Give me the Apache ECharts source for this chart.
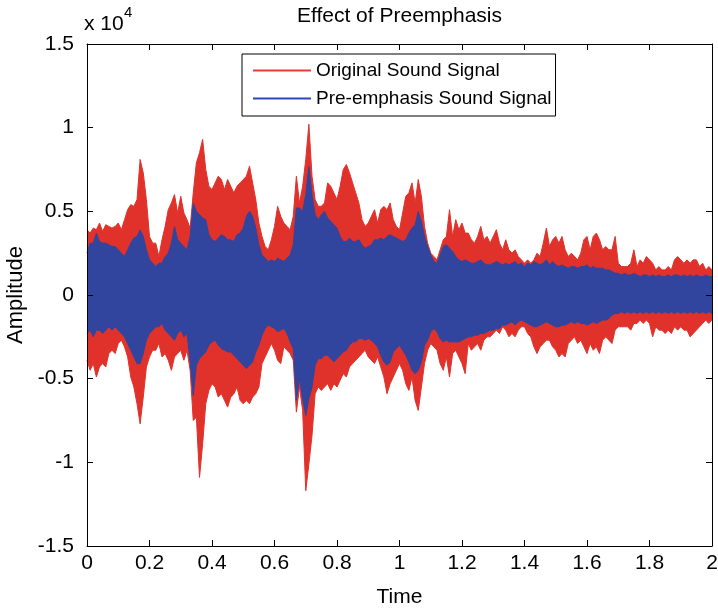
<!DOCTYPE html>
<html>
<head>
<meta charset="utf-8">
<script src="https://cdn.jsdelivr.net/npm/echarts@6/dist/echarts.min.js"></script>
<style>html,body{margin:0;padding:0;background:#fff}#c{width:718px;height:611px}</style>
</head>
<body>
<div id="c"></div>
<script>
// Labels
const chartTitle = 'Effect of Preemphasis';
const seriesNames = ['Original Sound Signal', 'Pre-emphasis Sound Signal'];
const xName = 'Time';
const yName = 'Amplitude';
const yScaleLabel = ['x 10', '4'];

// Sampling grid of the envelope readings (seconds)
const sampleStep = 0.01;

// Amplitude envelopes (in units of 10^4), read per 0.01 s from the picture
const redUpper = [
0.39,0.37,0.40,0.39,0.43,0.38,0.42,0.41,0.40,0.41,
0.43,0.39,0.45,0.51,0.54,0.53,0.57,0.81,0.73,0.57,
0.35,0.31,0.31,0.23,0.33,0.41,0.51,0.55,0.60,0.49,
0.59,0.49,0.45,0.40,0.61,0.79,0.85,0.93,0.75,0.65,
0.63,0.67,0.71,0.69,0.63,0.69,0.65,0.61,0.65,0.67,
0.69,0.71,0.77,0.67,0.57,0.43,0.35,0.29,0.27,0.33,
0.41,0.53,0.47,0.43,0.41,0.39,0.47,0.71,0.55,0.65,
0.81,1.02,0.71,0.57,0.53,0.53,0.55,0.67,0.65,0.61,
0.57,0.65,0.75,0.78,0.73,0.67,0.61,0.55,0.45,0.41,
0.43,0.47,0.51,0.43,0.51,0.53,0.51,0.55,0.45,0.41,
0.39,0.49,0.59,0.61,0.67,0.55,0.69,0.59,0.41,0.31,
0.25,0.23,0.21,0.27,0.33,0.35,0.51,0.35,0.45,0.39,
0.43,0.37,0.37,0.33,0.31,0.35,0.41,0.33,0.35,0.31,
0.35,0.39,0.31,0.27,0.33,0.27,0.25,0.27,0.23,0.21,
0.19,0.21,0.19,0.21,0.25,0.23,0.31,0.40,0.29,0.33,
0.35,0.31,0.35,0.27,0.23,0.25,0.23,0.21,0.25,0.33,
0.35,0.27,0.35,0.37,0.33,0.27,0.29,0.27,0.27,0.35,
0.19,0.17,0.17,0.17,0.19,0.27,0.17,0.21,0.19,0.23,
0.21,0.19,0.15,0.17,0.15,0.15,0.17,0.15,0.21,0.23,
0.21,0.19,0.21,0.19,0.21,0.21,0.17,0.19,0.15,0.17,
0.15];

const redLower = [
-0.39,-0.45,-0.41,-0.49,-0.43,-0.41,-0.43,-0.35,-0.33,-0.35,
-0.29,-0.27,-0.31,-0.37,-0.49,-0.55,-0.65,-0.77,-0.61,-0.43,
-0.37,-0.33,-0.33,-0.29,-0.37,-0.35,-0.39,-0.45,-0.37,-0.35,
-0.33,-0.39,-0.33,-0.45,-0.75,-0.73,-1.09,-0.89,-0.65,-0.57,
-0.53,-0.55,-0.61,-0.59,-0.63,-0.67,-0.61,-0.59,-0.55,-0.63,
-0.65,-0.63,-0.65,-0.61,-0.59,-0.55,-0.41,-0.37,-0.33,-0.29,
-0.33,-0.39,-0.41,-0.31,-0.33,-0.35,-0.39,-0.70,-0.55,-0.69,
-1.17,-1.01,-0.84,-0.59,-0.55,-0.57,-0.55,-0.53,-0.57,-0.53,
-0.55,-0.51,-0.47,-0.49,-0.43,-0.41,-0.39,-0.37,-0.35,-0.33,
-0.37,-0.39,-0.41,-0.37,-0.43,-0.49,-0.59,-0.53,-0.49,-0.45,
-0.41,-0.45,-0.53,-0.57,-0.49,-0.63,-0.69,-0.55,-0.41,-0.33,
-0.29,-0.31,-0.33,-0.41,-0.45,-0.37,-0.49,-0.35,-0.33,-0.37,
-0.41,-0.47,-0.29,-0.33,-0.31,-0.29,-0.33,-0.27,-0.25,-0.25,
-0.23,-0.21,-0.23,-0.19,-0.21,-0.25,-0.23,-0.25,-0.21,-0.19,
-0.19,-0.23,-0.25,-0.31,-0.35,-0.31,-0.29,-0.27,-0.27,-0.31,
-0.33,-0.37,-0.35,-0.37,-0.29,-0.27,-0.25,-0.29,-0.27,-0.31,
-0.35,-0.29,-0.33,-0.31,-0.35,-0.27,-0.25,-0.27,-0.29,-0.21,
-0.19,-0.19,-0.19,-0.19,-0.21,-0.17,-0.17,-0.15,-0.17,-0.15,
-0.17,-0.25,-0.19,-0.21,-0.21,-0.23,-0.21,-0.23,-0.19,-0.21,
-0.19,-0.21,-0.21,-0.25,-0.23,-0.21,-0.19,-0.17,-0.15,-0.17,
-0.15];

const blueUpper = [
0.25,0.31,0.31,0.37,0.32,0.31,0.31,0.30,0.29,0.29,
0.27,0.25,0.23,0.27,0.31,0.34,0.35,0.39,0.35,0.27,
0.21,0.19,0.17,0.19,0.19,0.23,0.25,0.31,0.41,0.33,
0.31,0.29,0.27,0.35,0.55,0.50,0.48,0.46,0.45,0.36,
0.33,0.32,0.34,0.36,0.35,0.33,0.33,0.32,0.36,0.37,
0.40,0.47,0.50,0.47,0.40,0.30,0.24,0.22,0.20,0.21,
0.20,0.22,0.21,0.20,0.22,0.24,0.30,0.52,0.52,0.50,
0.60,0.77,0.60,0.48,0.45,0.48,0.50,0.46,0.44,0.42,
0.40,0.35,0.32,0.32,0.34,0.32,0.32,0.33,0.30,0.28,
0.29,0.30,0.33,0.33,0.34,0.33,0.35,0.36,0.35,0.34,
0.33,0.32,0.33,0.37,0.40,0.42,0.50,0.44,0.35,0.29,
0.24,0.20,0.19,0.24,0.29,0.30,0.28,0.26,0.23,0.21,
0.20,0.21,0.20,0.19,0.19,0.20,0.21,0.19,0.18,0.18,
0.19,0.20,0.19,0.18,0.19,0.18,0.19,0.20,0.18,0.19,
0.17,0.19,0.18,0.20,0.19,0.18,0.19,0.21,0.18,0.20,
0.18,0.17,0.18,0.17,0.16,0.17,0.17,0.16,0.17,0.17,
0.18,0.16,0.17,0.16,0.16,0.16,0.15,0.15,0.14,0.13,
0.13,0.12,0.13,0.12,0.12,0.13,0.12,0.11,0.12,0.12,
0.11,0.12,0.11,0.12,0.11,0.11,0.12,0.11,0.12,0.12,
0.11,0.12,0.11,0.12,0.11,0.12,0.11,0.11,0.12,0.11,
0.11];

const blueLower = [
-0.23,-0.21,-0.25,-0.21,-0.21,-0.23,-0.21,-0.19,-0.21,-0.19,
-0.21,-0.23,-0.25,-0.29,-0.33,-0.37,-0.41,-0.41,-0.35,-0.27,
-0.23,-0.21,-0.19,-0.19,-0.17,-0.21,-0.23,-0.25,-0.27,-0.23,
-0.21,-0.25,-0.23,-0.40,-0.60,-0.42,-0.38,-0.36,-0.34,-0.30,
-0.28,-0.27,-0.30,-0.32,-0.33,-0.34,-0.34,-0.36,-0.38,-0.40,
-0.42,-0.44,-0.42,-0.40,-0.34,-0.30,-0.24,-0.20,-0.18,-0.19,
-0.20,-0.22,-0.21,-0.20,-0.23,-0.28,-0.32,-0.63,-0.50,-0.62,
-0.72,-0.62,-0.55,-0.42,-0.38,-0.38,-0.36,-0.36,-0.38,-0.40,
-0.38,-0.36,-0.34,-0.33,-0.30,-0.28,-0.28,-0.26,-0.26,-0.27,
-0.26,-0.27,-0.29,-0.31,-0.36,-0.40,-0.42,-0.40,-0.34,-0.32,
-0.30,-0.33,-0.36,-0.40,-0.45,-0.47,-0.45,-0.40,-0.30,-0.27,
-0.22,-0.20,-0.22,-0.26,-0.28,-0.27,-0.28,-0.28,-0.28,-0.28,
-0.27,-0.26,-0.25,-0.25,-0.24,-0.24,-0.23,-0.23,-0.22,-0.21,
-0.21,-0.20,-0.20,-0.18,-0.18,-0.17,-0.16,-0.18,-0.16,-0.15,
-0.16,-0.17,-0.18,-0.19,-0.19,-0.18,-0.17,-0.16,-0.17,-0.18,
-0.19,-0.19,-0.18,-0.18,-0.17,-0.16,-0.17,-0.16,-0.17,-0.17,
-0.18,-0.17,-0.16,-0.17,-0.16,-0.15,-0.15,-0.14,-0.12,-0.11,
-0.11,-0.10,-0.11,-0.10,-0.11,-0.10,-0.11,-0.10,-0.11,-0.10,
-0.11,-0.10,-0.11,-0.10,-0.11,-0.10,-0.11,-0.10,-0.11,-0.10,
-0.11,-0.10,-0.11,-0.10,-0.11,-0.10,-0.11,-0.10,-0.11,-0.10,
-0.11];

// Axis ranges / ticks
const xRange = [0, 2], xStep = 0.2;
const yRange = [-1.5, 1.5], yStep = 0.5;

const time = redUpper.map((_, i) => +(i * sampleStep).toFixed(2));

const FONT = "'Liberation Sans', Arial, Helvetica, sans-serif";
const RED = '#E0322A', BLUE = '#31459E';

function env(vals) { return time.map((t, i) => [t, vals[i]]); }
function band(name, vals, color) {
  return {
    name, type: 'line', data: env(vals), symbol: 'none', showSymbol: false,
    lineStyle: { color, width: 1 }, itemStyle: { color },
    areaStyle: { color, opacity: 1, origin: 'auto' },
    silent: true, animation: false, z: 2
  };
}

const axisCommon = {
  axisLine: { show: true, onZero: false, lineStyle: { color: '#000', width: 1 } },
  axisTick: { show: true, inside: true, length: 6, lineStyle: { color: '#000', width: 1 } },
  splitLine: { show: false },
  z: 5
};

const chart = echarts.init(document.getElementById('c'), null, { renderer: 'canvas' });
chart.setOption({
  animation: false,
  backgroundColor: '#fff',
  grid: { left: 87, right: 6, top: 44, bottom: 65, containLabel: false, outerBoundsMode: 'none' },
  xAxis: [
    Object.assign({}, axisCommon, {
      type: 'value', min: xRange[0], max: xRange[1], interval: xStep, position: 'bottom',
      axisLabel: { color: '#000', fontSize: 21, fontFamily: FONT, margin: 7 },
      name: xName, nameLocation: 'middle', nameGap: 41,
      nameTextStyle: { color: '#000', fontSize: 21, fontFamily: FONT }
    }),
    Object.assign({}, axisCommon, {
      type: 'value', min: xRange[0], max: xRange[1], interval: xStep, position: 'top',
      axisLabel: { show: false }
    })
  ],
  yAxis: [
    Object.assign({}, axisCommon, {
      type: 'value', min: yRange[0], max: yRange[1], interval: yStep, position: 'left',
      axisLabel: { color: '#000', fontSize: 21, fontFamily: FONT, margin: 13 },
      name: yName, nameLocation: 'middle', nameGap: 59,
      nameTextStyle: { color: '#000', fontSize: 22, fontFamily: FONT }
    }),
    Object.assign({}, axisCommon, {
      type: 'value', min: yRange[0], max: yRange[1], interval: yStep, position: 'right',
      axisLabel: { show: false }
    })
  ],
  legend: {
    orient: 'vertical', left: 242, top: 54, padding: [7, 4, 8, 11], itemGap: 9,
    itemWidth: 58, itemHeight: 2, borderColor: '#000', borderWidth: 1, borderRadius: 0,
    backgroundColor: '#fff', selectedMode: false, z: 10,
    textStyle: { fontSize: 19, color: '#000', fontFamily: FONT },
    data: [
      { name: seriesNames[0], icon: 'rect', itemStyle: { color: '#EE3A34' } },
      { name: seriesNames[1], icon: 'rect', itemStyle: { color: '#2E47B4' } }
    ]
  },
  graphic: [
    { type: 'text', x: 399.5, y: 6, z: 10,
      style: { text: chartTitle, align: 'center', verticalAlign: 'top', font: '21px ' + FONT, fill: '#000' } },
    { type: 'text', x: 84, y: 14, z: 10,
      style: { text: yScaleLabel[0], align: 'left', verticalAlign: 'top', font: '21px ' + FONT, fill: '#000' } },
    { type: 'text', x: 124, y: 5, z: 10,
      style: { text: yScaleLabel[1], align: 'left', verticalAlign: 'top', font: '15px ' + FONT, fill: '#000' } }
  ],
  series: [
    band(seriesNames[0], redUpper, RED),
    band(seriesNames[0], redLower, RED),
    band(seriesNames[1], blueUpper, BLUE),
    band(seriesNames[1], blueLower, BLUE)
  ]
});
</script>
</body>
</html>
